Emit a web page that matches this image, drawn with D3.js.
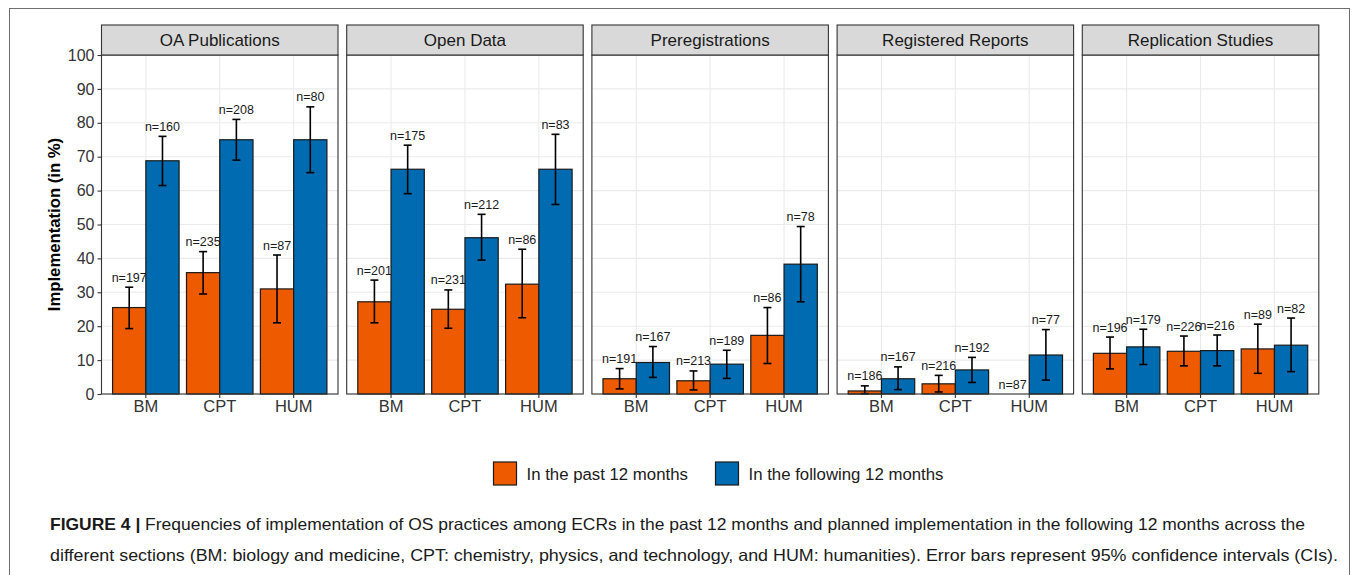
<!DOCTYPE html>
<html>
<head>
<meta charset="utf-8">
<script src="https://cdn.jsdelivr.net/npm/d3@7"></script>
<style>
  body { margin: 0; background: #fff; }
  text { font-family: "Liberation Sans", Arial, sans-serif; }
</style>
</head>
<body>
<div id="chart"></div>
<script>
// data
var practices = ['OA Publications', 'Open Data', 'Preregistrations', 'Registered Reports', 'Replication Studies'];
var sections = ['BM', 'CPT', 'HUM'];
var periods = ['In the past 12 months', 'In the following 12 months'];
var yTicks = [0, 10, 20, 30, 40, 50, 60, 70, 80, 90, 100];

var pastPct  = [[25.5, 35.8, 31.0], [27.2, 25.0, 32.4], [4.5, 3.9, 17.3], [0.9, 3.0, 0], [12.0, 12.6, 13.3]];
var pastLow  = [[19.3, 29.5, 21.0], [21.0, 19.4, 22.5], [1.5, 1.2, 9.0], [0.1, 0.6, 0], [7.4, 8.3, 6.1]];
var pastHigh = [[31.5, 42.0, 41.0], [33.6, 30.7, 42.7], [7.5, 6.8, 25.5], [2.4, 5.5, 0], [16.8, 17.1, 20.6]];
var pastN    = [[197, 235, 87], [201, 231, 86], [191, 213, 86], [186, 216, 87], [196, 226, 89]];

var followPct  = [[68.8, 75.0, 75.0], [66.3, 46.1, 66.3], [9.3, 8.8, 38.3], [4.5, 7.1, 11.5], [13.9, 12.8, 14.4]];
var followLow  = [[61.5, 69.0, 65.3], [59.1, 39.5, 55.9], [4.9, 4.6, 27.2], [1.3, 3.4, 4.1], [8.7, 8.3, 6.6]];
var followHigh = [[76.0, 81.0, 84.7], [73.4, 53.0, 76.6], [14.0, 12.9, 49.4], [8.0, 10.8, 19.0], [19.1, 17.4, 22.4]];
var followN    = [[160, 208, 80], [175, 212, 83], [167, 189, 78], [167, 192, 77], [179, 216, 82]];

var colors = ['#ee5a00', '#006bb0'];

var width = 1355, height = 575;
var panelTop = 55, panelBottom = 394, stripTop = 25;
var panelLeft = 101.5, panelW = 236.5, panelGap = 8.7;

var svg = d3.select('#chart').append('svg')
    .attr('width', width)
    .attr('height', height);

// outer frame
svg.append('rect')
    .attr('x', 9.5).attr('y', 8.5)
    .attr('width', 1340).attr('height', 600)
    .attr('fill', 'none').attr('stroke', '#6e6e6e').attr('stroke-width', 1);

var y = d3.scaleLinear().domain([0, 100]).range([panelBottom, panelTop]);

var fx = d3.scaleBand().domain(practices)
    .range([panelLeft, panelLeft + 5 * panelW + 4 * panelGap])
    .paddingInner(panelGap / (panelW + panelGap));

var x = d3.scaleBand().domain(sections)
    .range([0, panelW])
    .paddingInner(0.1)
    .paddingOuter(0.15);

var xs = d3.scaleBand().domain([0, 1]).range([0, x.bandwidth()]);

// y axis
var yAxis = svg.append('g')
    .attr('transform', 'translate(' + panelLeft + ',0)')
    .call(d3.axisLeft(y).tickValues(yTicks).tickSize(4).tickPadding(3));
yAxis.select('.domain').remove();
yAxis.selectAll('.tick line').attr('stroke', '#333').attr('stroke-width', 1.1);
yAxis.selectAll('.tick text')
    .attr('fill', '#333')
    .style('font-size', '16px')
    .style('font-family', '"Liberation Sans", Arial, sans-serif');

svg.append('text')
    .attr('transform', 'translate(60,' + ((panelTop + panelBottom) / 2) + ') rotate(-90)')
    .attr('text-anchor', 'middle')
    .style('font-size', '16.7px')
    .style('font-weight', 'bold')
    .attr('fill', '#000')
    .text('Implementation (in %)');

practices.forEach(function(p, pi) {
    var g = svg.append('g').attr('transform', 'translate(' + fx(p) + ',0)');

    g.append('rect')
        .attr('x', 0).attr('y', panelTop)
        .attr('width', panelW).attr('height', panelBottom - panelTop)
        .attr('fill', '#fff');

    // grid
    g.selectAll('.hgrid').data(yTicks).enter().append('line')
        .attr('x1', 0).attr('x2', panelW)
        .attr('y1', function(d) { return y(d); })
        .attr('y2', function(d) { return y(d); })
        .attr('stroke', '#ebebeb').attr('stroke-width', 1.1);
    g.selectAll('.vgrid').data(sections).enter().append('line')
        .attr('x1', function(d) { return x(d) + x.bandwidth() / 2; })
        .attr('x2', function(d) { return x(d) + x.bandwidth() / 2; })
        .attr('y1', panelTop).attr('y2', panelBottom)
        .attr('stroke', '#ebebeb').attr('stroke-width', 1.1);

    var rows = [];
    sections.forEach(function(s, si) {
        rows.push({s: s, k: 0, v: pastPct[pi][si], lo: pastLow[pi][si], hi: pastHigh[pi][si], n: pastN[pi][si]});
        rows.push({s: s, k: 1, v: followPct[pi][si], lo: followLow[pi][si], hi: followHigh[pi][si], n: followN[pi][si]});
    });

    g.selectAll('.bar').data(rows.filter(function(d) { return d.v > 0; })).enter().append('rect')
        .attr('x', function(d) { return x(d.s) + xs(d.k); })
        .attr('y', function(d) { return y(d.v); })
        .attr('width', xs.bandwidth())
        .attr('height', function(d) { return y(0) - y(d.v); })
        .attr('fill', function(d) { return colors[d.k]; })
        .attr('stroke', '#1a1a1a').attr('stroke-width', 1.2);

    var eb = g.selectAll('.eb').data(rows.filter(function(d) { return d.hi > d.lo; })).enter().append('g')
        .attr('transform', function(d) { return 'translate(' + (x(d.s) + xs(d.k) + xs.bandwidth() / 2) + ',0)'; })
        .attr('stroke', '#000').attr('stroke-width', 1.6);
    eb.append('line').attr('x1', 0).attr('x2', 0)
        .attr('y1', function(d) { return y(d.lo); })
        .attr('y2', function(d) { return y(d.hi); });
    eb.append('line').attr('x1', -4).attr('x2', 4)
        .attr('y1', function(d) { return y(d.lo); })
        .attr('y2', function(d) { return y(d.lo); });
    eb.append('line').attr('x1', -4).attr('x2', 4)
        .attr('y1', function(d) { return y(d.hi); })
        .attr('y2', function(d) { return y(d.hi); });

    g.selectAll('.nlab').data(rows).enter().append('text')
        .attr('x', function(d) { return x(d.s) + xs(d.k) + xs.bandwidth() / 2; })
        .attr('y', function(d) { return y(d.hi) - 5.5; })
        .attr('text-anchor', 'middle')
        .style('font-size', '12.5px')
        .attr('fill', '#1a1a1a')
        .text(function(d) { return 'n=' + d.n; });

    g.append('rect')
        .attr('x', 0).attr('y', panelTop)
        .attr('width', panelW).attr('height', panelBottom - panelTop)
        .attr('fill', 'none').attr('stroke', '#333').attr('stroke-width', 1.1);

    // strip
    g.append('rect')
        .attr('x', 0).attr('y', stripTop)
        .attr('width', panelW).attr('height', panelTop - stripTop)
        .attr('fill', '#d9d9d9').attr('stroke', '#333').attr('stroke-width', 1.1);
    g.append('text')
        .attr('x', panelW / 2).attr('y', (stripTop + panelTop) / 2 + 6)
        .attr('text-anchor', 'middle')
        .style('font-size', '17px')
        .attr('fill', '#1a1a1a')
        .text(p);

    // x axis
    var xa = g.append('g')
        .attr('transform', 'translate(0,' + panelBottom + ')')
        .call(d3.axisBottom(x).tickSize(4).tickPadding(2).tickSizeOuter(0));
    xa.select('.domain').remove();
    xa.selectAll('.tick line').attr('stroke', '#333').attr('stroke-width', 1.1);
    xa.selectAll('.tick text')
        .attr('fill', '#333')
        .style('font-size', '16.5px')
        .style('font-family', '"Liberation Sans", Arial, sans-serif');
});

// legend
var legend = svg.append('g').attr('transform', 'translate(493.5,462)');
var legX = [0, 222];
periods.forEach(function(lbl, i) {
    legend.append('rect')
        .attr('x', legX[i]).attr('y', 0)
        .attr('width', 23).attr('height', 23)
        .attr('fill', colors[i]).attr('stroke', '#1a1a1a').attr('stroke-width', 1.2);
    legend.append('text')
        .attr('x', legX[i] + 33).attr('y', 17.5)
        .style('font-size', '16.8px')
        .attr('fill', '#1a1a1a')
        .text(lbl);
});

// caption
var cap1 = svg.append('text').attr('x', 50).attr('y', 530)
    .attr('textLength', 1255).attr('lengthAdjust', 'spacingAndGlyphs')
    .style('font-size', '16.5px').attr('fill', '#1a1a1a');
cap1.append('tspan').style('font-weight', 'bold').text('FIGURE 4 | ');
cap1.append('tspan').text('Frequencies of implementation of OS practices among ECRs in the past 12 months and planned implementation in the following 12 months across the');

svg.append('text').attr('x', 50).attr('y', 561)
    .attr('textLength', 1288).attr('lengthAdjust', 'spacingAndGlyphs')
    .style('font-size', '16.5px').attr('fill', '#1a1a1a')
    .text('different sections (BM: biology and medicine, CPT: chemistry, physics, and technology, and HUM: humanities). Error bars represent 95% confidence intervals (CIs).');
</script>
</body>
</html>
